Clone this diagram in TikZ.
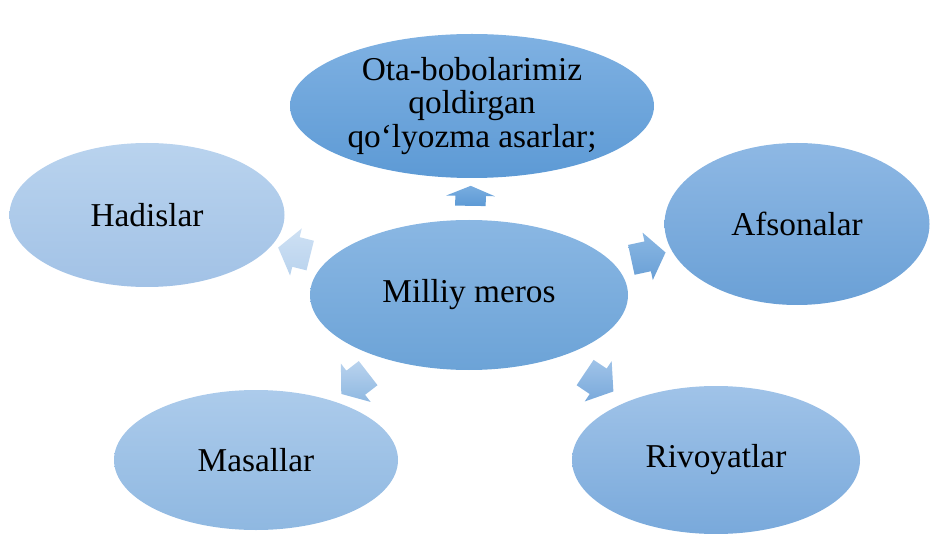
\documentclass[tikz,border=0pt]{standalone}
\usepackage{fontspec}
\setmainfont{Liberation Serif}
\usetikzlibrary{shapes.geometric,shapes.arrows}

\definecolor{otatop}{HTML}{7FB1E2}
\definecolor{otabot}{HTML}{5D9AD5}
\definecolor{midtop}{HTML}{8AB7E3}
\definecolor{midbot}{HTML}{6CA3D7}
\definecolor{hadtop}{HTML}{B9D3EE}
\definecolor{hadbot}{HTML}{A2C2E6}
\definecolor{afstop}{HTML}{8EB8E4}
\definecolor{afsbot}{HTML}{6AA0D6}
\definecolor{mastop}{HTML}{ACCBEB}
\definecolor{masbot}{HTML}{8FB8E1}
\definecolor{rivtop}{HTML}{A0C3E8}
\definecolor{rivbot}{HTML}{79A9DB}

\begin{document}
\begin{tikzpicture}[x=0.75pt, y=-0.75pt,
        bubble/.style={ellipse, inner sep=0pt, align=center, font=\fontsize{25}{25}\selectfont},
        pointer/.style={single arrow, draw=none, inner xsep=0pt, inner ysep=15*0.75pt,
            single arrow head extend=9*0.75pt, single arrow tip angle=106,
            sloped, allow upside down, pos=0.5}]
        \useasboundingbox (0, 0) rectangle (941, 534);

        % ellipses
        \node[bubble, minimum width=318*0.75pt, minimum height=150*0.75pt,
            top color=midtop, bottom color=midbot] (mid) at (469, 295) {Milliy meros};
        \node[bubble, minimum width=364*0.75pt, minimum height=144*0.75pt,
            top color=otatop, bottom color=otabot] (ota) at (472, 106)
            {Ota-bobolarimiz\\qoldirgan\\qo‘lyozma asarlar;};
        \node[bubble, minimum width=275*0.75pt, minimum height=144*0.75pt,
            top color=hadtop, bottom color=hadbot] (hadis) at (147, 215) {Hadislar};
        \node[bubble, minimum width=265*0.75pt, minimum height=162*0.75pt,
            top color=afstop, bottom color=afsbot] (afsona) at (797, 224) {Afsonalar};
        \node[bubble, minimum width=284*0.75pt, minimum height=140*0.75pt,
            top color=mastop, bottom color=masbot] (masal) at (256, 460) {Masallar};
        \node[bubble, minimum width=288*0.75pt, minimum height=148*0.75pt,
            top color=rivtop, bottom color=rivbot] (rivoyat) at (716, 460) {Rivoyatlar};

        % arrows
        \path (mid) -- (ota) node[pointer, minimum height=20*0.75pt, single arrow tip angle=135,
            top color=otatop!80!otabot, bottom color=otabot] (upto) {};
        \path (mid) -- (hadis) node[pointer, minimum height=33*0.75pt,
            top color=hadtop!70!white, bottom color=hadtop] (leftto) {};
        \path (mid) -- (afsona) node[pointer, minimum height=35*0.75pt,
            top color=midtop, bottom color=afsbot] (rightto) {};
        \path (mid) -- (masal) node[pointer, minimum height=34*0.75pt,
            top color=hadtop, bottom color=masbot] (downleft) {};
        \path (mid) -- (rivoyat) node[pointer, minimum height=34*0.75pt,
            top color=rivtop, bottom color=rivbot] (downright) {};
\end{tikzpicture}
\end{document}
